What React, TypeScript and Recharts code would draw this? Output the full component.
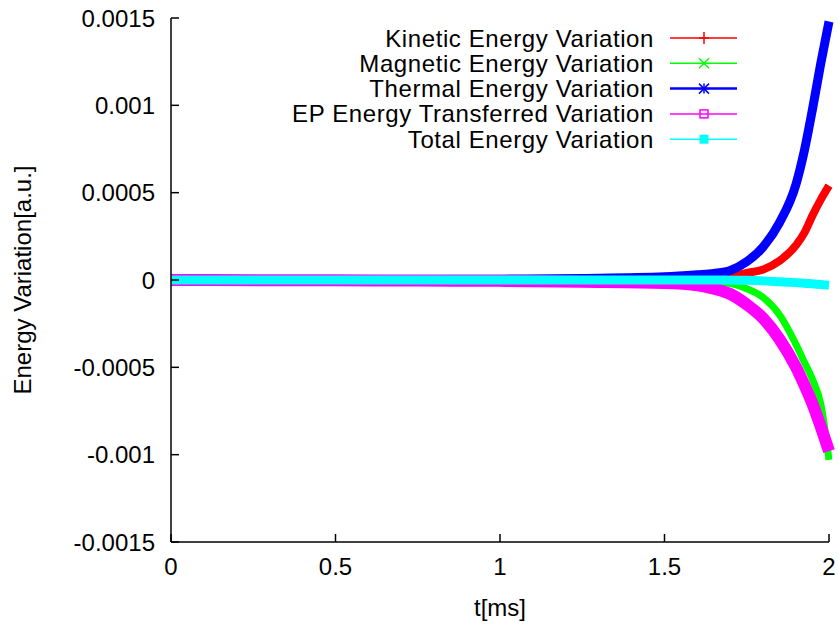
import { CartesianGrid, Line, LineChart, XAxis, YAxis } from "recharts";

const times = [0, 0.25, 0.5, 0.75, 1, 1.25, 1.5, 1.6, 1.65, 1.7, 1.75, 1.8, 1.85, 1.9, 1.925, 1.95, 1.975, 2];
const kinetic = [0, 0.000001, 0.000002, 0.000003, 0.000004, 0.000005, 0.000008, 0.000011, 0.000014, 0.00002, 0.00004, 0.00006, 0.00011, 0.0002, 0.00027, 0.00037, 0.00046, 0.00054];
const magnetic = [0, -0.000001, -0.000001, -0.000002, -0.000002, -0.000003, -0.000005, -0.000008, -0.000012, -0.00002, -0.00005, -0.0001, -0.0002, -0.00037, -0.00047, -0.00057, -0.00071, -0.00103];
const thermal = [0, 0.000001, 0.000002, 0.000003, 0.000005, 0.000009, 0.000018, 0.00003, 0.000038, 0.000055, 0.000105, 0.00019, 0.00033, 0.00055, 0.00074, 0.00098, 0.00124, 0.00148];
const epTransfer = [0, -0.000001, -0.000002, -0.000003, -0.000005, -0.00001, -0.000017, -0.00003, -0.00005, -0.00008, -0.00014, -0.00022, -0.00034, -0.0005, -0.0006, -0.00071, -0.00084, -0.00098];
const total = [0, 0, 0, 0, 0, 0, 0, 0, 0, -0.000001, -0.000002, -0.000005, -0.00001, -0.000015, -0.000018, -0.000022, -0.000026, -0.00003];

const xTicks = [0, 0.5, 1, 1.5, 2];
const yTicks = [-0.0015, -0.001, -0.0005, 0, 0.0005, 0.001, 0.0015];

const seriesNames = [
  "Kinetic Energy Variation",
  "Magnetic Energy Variation",
  "Thermal Energy Variation",
  "EP Energy Transferred Variation",
  "Total Energy Variation",
];

const data = times.map((t, i) => ({
  t,
  kinetic: kinetic[i],
  magnetic: magnetic[i],
  thermal: thermal[i],
  ep: epTransfer[i],
  total: total[i],
}));

const FONT = "'Liberation Sans', Arial, sans-serif";

const series = [
  { key: "kinetic", color: "#ff0000", width: 8, marker: "plus" },
  { key: "magnetic", color: "#00ff00", width: 7, marker: "cross" },
  { key: "thermal", color: "#0000ff", width: 9, marker: "star" },
  { key: "ep", color: "#ff00ff", width: 12, marker: "openSquare" },
  { key: "total", color: "#00ffff", width: 9, marker: "filledSquare" },
];

function Marker({ kind, cx, cy, color }: { kind: string; cx: number; cy: number; color: string }) {
  const s = 5;
  if (kind === "plus") {
    return (
      <g stroke={color} strokeWidth={1.5}>
        <line x1={cx - s} y1={cy} x2={cx + s} y2={cy} />
        <line x1={cx} y1={cy - s - 1} x2={cx} y2={cy + s + 1} />
      </g>
    );
  }
  if (kind === "cross") {
    return (
      <g stroke={color} strokeWidth={1.5}>
        <line x1={cx - s} y1={cy - s} x2={cx + s} y2={cy + s} />
        <line x1={cx - s} y1={cy + s} x2={cx + s} y2={cy - s} />
      </g>
    );
  }
  if (kind === "star") {
    return (
      <g stroke={color} strokeWidth={1.5}>
        <line x1={cx - s} y1={cy - s} x2={cx + s} y2={cy + s} />
        <line x1={cx - s} y1={cy + s} x2={cx + s} y2={cy - s} />
        <line x1={cx - s} y1={cy} x2={cx + s} y2={cy} />
        <line x1={cx} y1={cy - s} x2={cx} y2={cy + s} />
      </g>
    );
  }
  if (kind === "openSquare") {
    return <rect x={cx - 4} y={cy - 4} width={8} height={8} fill="none" stroke={color} strokeWidth={1.5} />;
  }
  return <rect x={cx - 4.5} y={cy - 4.5} width={9} height={9} fill={color} />;
}

function LegendBox() {
  return (
    <svg width={838} height={170} style={{ position: "absolute", left: 0, top: 0, pointerEvents: "none" }}>
      {series.map((s, i) => {
        const y = 38 + i * 25.3;
        return (
          <g key={s.key}>
            <text
              x={654}
              y={y}
              textAnchor="end"
              dominantBaseline="central"
              fontFamily={FONT}
              fontSize={24}
              letterSpacing={0.6}
              fill="#000"
            >
              {seriesNames[i]}
            </text>
            <line x1={670} y1={y} x2={737} y2={y} stroke={s.color} strokeWidth={s.key === "thermal" ? 2.5 : 1.5} />
            <Marker kind={s.marker} cx={704} cy={y} color={s.color} />
          </g>
        );
      })}
    </svg>
  );
}

export default function App() {
  return (
    <div style={{ position: "absolute", left: 0, top: 0, width: 838, height: 624, background: "#fff" }}>
      <LineChart width={838} height={624} data={data} margin={{ top: 18, right: 9, left: 0, bottom: 0 }}>
        <CartesianGrid stroke="none" />
        <XAxis
          dataKey="t"
          type="number"
          domain={[0, 2]}
          ticks={xTicks}
          height={82}
          tickSize={-8}
          tickMargin={24}
          stroke="#000"
          strokeWidth={1.5}
          tick={{ fontSize: 24, fill: "#000", fontFamily: FONT }}
          label={{ value: "t[ms]", position: "insideBottom", offset: 8, fontSize: 24, fill: "#000", fontFamily: FONT }}
        />
        <XAxis
          xAxisId="top"
          orientation="top"
          dataKey="t"
          type="number"
          domain={[0, 2]}
          ticks={xTicks}
          height={0}
          tickSize={-8}
          tick={false}
          stroke="#000"
          strokeWidth={1.5}
        />
        <YAxis
          type="number"
          domain={[-0.0015, 0.0015]}
          ticks={yTicks}
          width={171}
          tickSize={-8}
          tickMargin={24}
          stroke="#000"
          strokeWidth={1.5}
          allowDataOverflow
          tick={{ fontSize: 24, fill: "#000", fontFamily: FONT }}
          label={({ viewBox }: any) => (
            <text
              x={viewBox.x + 22}
              y={viewBox.y + viewBox.height / 2}
              transform={`rotate(-90, ${viewBox.x + 22}, ${viewBox.y + viewBox.height / 2})`}
              textAnchor="middle"
              dominantBaseline="central"
              fontSize={24}
              fontFamily={FONT}
              fill="#000"
            >
              Energy Variation[a.u.]
            </text>
          )}
        />
        <YAxis
          yAxisId="right"
          orientation="right"
          type="number"
          domain={[-0.0015, 0.0015]}
          ticks={yTicks}
          width={0}
          tickSize={-8}
          tick={false}
          stroke="#000"
          strokeWidth={1.5}
        />
        {series.map((s) => (
          <Line
            key={s.key}
            dataKey={s.key}
            type="monotone"
            stroke={s.color}
            strokeWidth={s.width}
            dot={false}
            isAnimationActive={false}
          />
        ))}
      </LineChart>
      <LegendBox />
    </div>
  );
}
